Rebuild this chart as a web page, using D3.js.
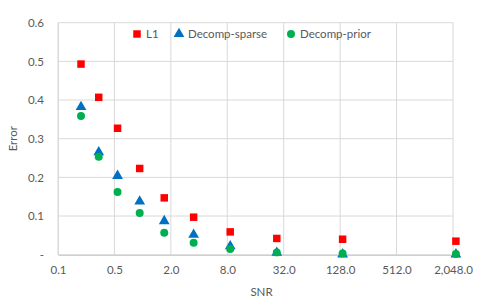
<!DOCTYPE html>
<html>
<head>
<meta charset="utf-8">
<script src="https://cdn.jsdelivr.net/npm/d3@7"></script>
<style>
    body { margin: 0; background: #fff; }
    text { font-family: "Lato", "Open Sans", sans-serif; fill: #595959; }
</style>
</head>
<body>
<div id="chart"></div>
<script>
// data
var snr = [0.22, 0.34, 0.54, 0.93, 1.7, 3.5, 8.6, 27, 136, 2200];
var errL1 = [0.493, 0.407, 0.327, 0.223, 0.147, 0.097, 0.059, 0.042, 0.040, 0.035];
var errSparse = [0.382, 0.265, 0.204, 0.138, 0.087, 0.052, 0.022, 0.005, 0.001, 0.001];
var errPrior = [0.359, 0.253, 0.162, 0.108, 0.057, 0.031, 0.015, 0.006, 0.003, 0.002];
var xTicks = [0.125, 0.5, 2, 8, 32, 128, 512, 2048];
var yTicks = [0, 0.1, 0.2, 0.3, 0.4, 0.5, 0.6];
var seriesNames = ["L1", "Decomp-sparse", "Decomp-prior"];
var seriesColors = ["#ff0000", "#0070c0", "#00b050"];
var seriesShapes = [d3.symbolSquare, d3.symbolTriangle, d3.symbolCircle];

var width = 479, height = 304;
var plotLeft = 58, plotRight = 453, plotTop = 22.7, plotBottom = 254.7;

var svg = d3.select("#chart").append("svg").attr("width", width).attr("height", height);

var x = d3.scaleLog().base(2).domain([0.125, 2048]).range([plotLeft, plotRight]);
var y = d3.scaleLinear().domain([0, 0.6]).range([plotBottom, plotTop]);

// grid
svg.append("g").selectAll("line").data(yTicks.slice(1)).enter().append("line")
    .attr("x1", plotLeft).attr("x2", plotRight)
    .attr("y1", function (d) { return y(d); }).attr("y2", function (d) { return y(d); })
    .attr("stroke", "#d9d9d9").attr("stroke-width", 1);
svg.append("g").selectAll("line").data(xTicks).enter().append("line")
    .attr("x1", function (d) { return x(d); }).attr("x2", function (d) { return x(d); })
    .attr("y1", plotTop).attr("y2", plotBottom)
    .attr("stroke", "#d9d9d9").attr("stroke-width", 1);

// axes
var xAxis = svg.append("g").attr("transform", "translate(0," + plotBottom + ")")
    .call(d3.axisBottom(x).tickValues(xTicks).tickSize(0).tickPadding(11).tickFormat(d3.format(",.1f")));
xAxis.select(".domain").attr("stroke", "#bfbfbf").attr("stroke-width", 1.3);
xAxis.selectAll("text").style("font-size", "11.5px").attr("fill", "#595959");

var yAxis = svg.append("g").attr("transform", "translate(" + plotLeft + ",0)")
    .call(d3.axisLeft(y).tickValues(yTicks).tickSize(0).tickPadding(14)
        .tickFormat(function (d) { return d === 0 ? "-" : d3.format(".1f")(d); }));
yAxis.select(".domain").attr("stroke", "#d9d9d9");
yAxis.selectAll("text").style("font-size", "11.5px").attr("fill", "#595959");

// axis titles
svg.append("text").attr("x", (plotLeft + plotRight) / 2 + 6).attr("y", 296)
    .attr("text-anchor", "middle").style("font-size", "11.5px").text("SNR");
svg.append("text").attr("transform", "translate(17," + ((plotTop + plotBottom) / 2) + ") rotate(-90)")
    .attr("text-anchor", "middle").style("font-size", "11.5px").text("Error");

// series
var series = [errL1, errSparse, errPrior];
var symbolSizes = [56, 50, 50];
series.forEach(function (vals, k) {
    svg.append("g").selectAll("path").data(vals).enter().append("path")
        .attr("transform", function (d, i) { return "translate(" + x(snr[i]) + "," + y(d) + ")"; })
        .attr("d", d3.symbol().type(seriesShapes[k]).size(symbolSizes[k]))
        .attr("fill", seriesColors[k]);
});

// legend
var legendX = [137, 179, 291];
var legend = svg.append("g").selectAll("g").data(seriesNames).enter().append("g")
    .attr("transform", function (d, i) { return "translate(" + legendX[i] + ",34)"; });
legend.append("path")
    .attr("d", function (d, i) { return d3.symbol().type(seriesShapes[i]).size(symbolSizes[i])(); })
    .attr("fill", function (d, i) { return seriesColors[i]; });
legend.append("text").attr("x", 9).attr("dy", "0.35em").style("font-size", "11.5px").text(String);
</script>
</body>
</html>
